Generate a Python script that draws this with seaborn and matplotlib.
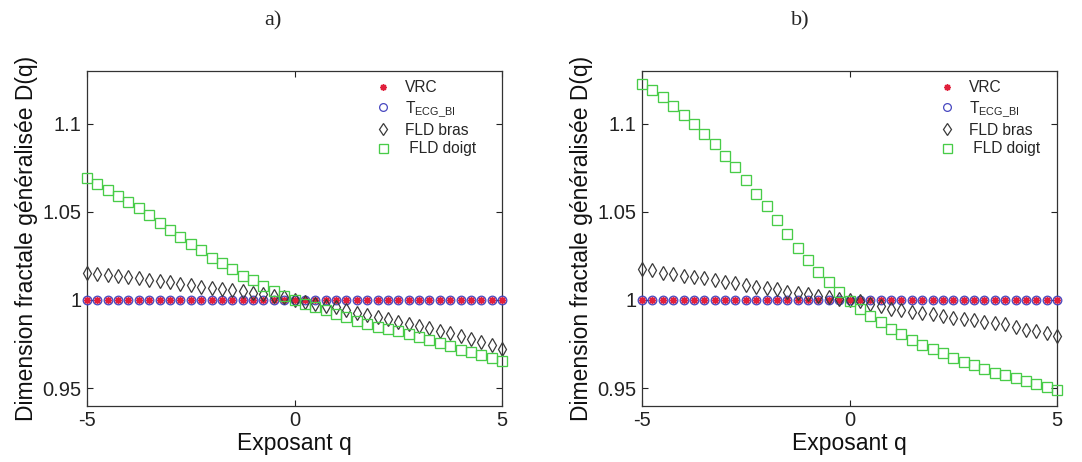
import numpy as np
import pandas as pd
import matplotlib
matplotlib.use("Agg")
import matplotlib.pyplot as plt
import seaborn as sns
from matplotlib.ticker import FuncFormatter

# ---------------- data ----------------
q = [-5.0, -4.75, -4.5, -4.25, -4.0, -3.75, -3.5, -3.25, -3.0, -2.75, -2.5,
     -2.25, -2.0, -1.75, -1.5, -1.25, -1.0, -0.75, -0.5, -0.25, 0.0,
     0.25, 0.5, 0.75, 1.0, 1.25, 1.5, 1.75, 2.0, 2.25, 2.5,
     2.75, 3.0, 3.25, 3.5, 3.75, 4.0, 4.25, 4.5, 4.75, 5.0]

series_labels = ["VRC", r"T$_{ECG\_BI}$", "FLD bras", " FLD doigt"]
panel_titles = ["a)", "b)"]
x_ticks = [-5, 0, 5]
y_ticks = [0.95, 1.0, 1.05, 1.1]
x_label = "Exposant q"
y_label = "Dimension fractale généralisée D(q)"

# panel a
vrc_a = [1.0000, 1.0000, 1.0000, 1.0000, 1.0000, 1.0000, 1.0000, 1.0000, 1.0000, 1.0000, 1.0000,
         1.0000, 1.0000, 1.0000, 1.0000, 1.0000, 1.0000, 1.0000, 1.0000, 1.0000, 1.0000,
         0.9999, 0.9999, 0.9999, 0.9999, 0.9999, 0.9999, 0.9999, 0.9999, 0.9999, 0.9999,
         0.9999, 0.9999, 0.9999, 0.9999, 0.9999, 0.9999, 0.9999, 0.9999, 0.9999, 0.9999]
tecg_a = [1.0000, 1.0000, 1.0000, 1.0000, 1.0000, 1.0000, 1.0000, 1.0000, 1.0000, 1.0000, 1.0000,
          1.0000, 1.0000, 1.0000, 1.0000, 1.0000, 1.0000, 1.0000, 1.0000, 1.0000, 1.0000,
          1.0000, 1.0000, 1.0000, 1.0000, 1.0000, 1.0000, 1.0000, 1.0000, 1.0000, 1.0000,
          1.0000, 1.0000, 1.0000, 1.0000, 1.0000, 1.0000, 1.0000, 1.0000, 1.0000, 1.0000]
bras_a = [1.0155, 1.0149, 1.0142, 1.0138, 1.0130, 1.0123, 1.0115, 1.0108, 1.0100, 1.0092, 1.0083,
          1.0075, 1.0070, 1.0062, 1.0055, 1.0051, 1.0038, 1.0032, 1.0025, 1.0015, 1.0000,
          0.9988, 0.9977, 0.9967, 0.9957, 0.9940, 0.9923, 0.9912, 0.9902, 0.9890, 0.9877,
          0.9865, 0.9853, 0.9839, 0.9825, 0.9811, 0.9796, 0.9778, 0.9760, 0.9742, 0.9720]
doigt_a = [1.0692, 1.0658, 1.0623, 1.0592, 1.0557, 1.0519, 1.0479, 1.0438, 1.0396, 1.0355, 1.0319,
           1.0281, 1.0240, 1.0208, 1.0174, 1.0138, 1.0113, 1.0081, 1.0053, 1.0025, 1.0000,
           0.9978, 0.9962, 0.9942, 0.9921, 0.9902, 0.9883, 0.9866, 0.9849, 0.9835, 0.9821,
           0.9807, 0.9792, 0.9773, 0.9755, 0.9736, 0.9717, 0.9703, 0.9689, 0.9670, 0.9651]

# panel b
vrc_b = [1.0000, 1.0001, 1.0001, 1.0001, 1.0000, 1.0000, 1.0000, 1.0000, 1.0000, 1.0000, 1.0000,
         1.0000, 1.0000, 0.9999, 0.9999, 0.9999, 0.9999, 0.9999, 0.9999, 0.9999, 0.9998,
         0.9998, 0.9998, 0.9998, 0.9998, 0.9998, 0.9998, 0.9998, 0.9998, 0.9998, 0.9998,
         0.9998, 0.9998, 0.9998, 0.9998, 0.9998, 0.9997, 0.9997, 0.9997, 0.9997, 0.9997]
tecg_b = [1.0000, 1.0000, 1.0000, 1.0000, 1.0000, 1.0000, 1.0000, 1.0000, 1.0000, 1.0000, 1.0000,
          1.0000, 1.0000, 1.0000, 1.0000, 1.0000, 1.0000, 1.0000, 1.0000, 1.0000, 1.0000,
          1.0000, 1.0000, 1.0000, 1.0000, 1.0000, 1.0000, 1.0000, 1.0000, 1.0000, 1.0000,
          1.0000, 1.0000, 1.0000, 1.0000, 1.0000, 1.0000, 1.0000, 1.0000, 1.0000, 1.0000]
bras_b = [1.0174, 1.0167, 1.0155, 1.0148, 1.0137, 1.0131, 1.0122, 1.0112, 1.0103, 1.0094, 1.0084,
          1.0075, 1.0066, 1.0060, 1.0047, 1.0037, 1.0032, 1.0024, 1.0015, 1.0007, 1.0000,
          0.9991, 0.9979, 0.9966, 0.9951, 0.9942, 0.9933, 0.9925, 0.9919, 0.9910, 0.9900,
          0.9891, 0.9884, 0.9876, 0.9869, 0.9861, 0.9848, 0.9831, 0.9822, 0.9813, 0.9798]
doigt_b = [1.1227, 1.1190, 1.1148, 1.1101, 1.1049, 1.0996, 1.0942, 1.0884, 1.0818, 1.0753, 1.0678,
           1.0603, 1.0530, 1.0453, 1.0371, 1.0296, 1.0227, 1.0159, 1.0103, 1.0047, 0.9996,
           0.9948, 0.9910, 0.9873, 0.9835, 0.9807, 0.9775, 0.9745, 0.9719, 0.9697, 0.9672,
           0.9648, 0.9629, 0.9607, 0.9588, 0.9573, 0.9558, 0.9541, 0.9522, 0.9507, 0.9490]

panels = [[vrc_a, tecg_a, bras_a, doigt_a], [vrc_b, tecg_b, bras_b, doigt_b]]

# ---------------- style ----------------
sns.set_theme(style="ticks")
plt.rcParams["font.family"] = ["Liberation Sans", "DejaVu Sans"]
plt.rcParams["mathtext.default"] = "regular"

colors = ["#e0203c", "#4848c0", "#3a3a3a", "#48cc48"]
markers = [(8, 2, 0), "o", "d", "s"]
msizes = [5.2, 6.2, 7.0, 7.2]
mews = [1.1, 0.9, 0.9, 0.95]

fig = plt.figure(figsize=(10.82, 4.62), dpi=100)
W, H = 1082.0, 462.0
axes_px = [(87, 502), (642, 1057)]
top_px, bot_px = 70.7, 405.7
title_x = [273, 800]

for p, (lx, rx) in enumerate(axes_px):
    ax = fig.add_axes([lx / W, (H - bot_px) / H, (rx - lx) / W, (bot_px - top_px) / H])
    for i, vals in enumerate(panels[p]):
        df = pd.DataFrame({"q": q, "D": vals})
        sns.lineplot(data=df, x="q", y="D", ax=ax, linestyle="none",
                     marker=markers[i], markersize=msizes[i],
                     markeredgecolor=colors[i], markeredgewidth=mews[i],
                     markerfacecolor="none", color=colors[i],
                     label=series_labels[i], errorbar=None, sort=False,
                     clip_on=False, zorder=3 + i)
    ax.set_xlim(-5, 5)
    ax.set_ylim(0.94, 1.13)
    ax.set_xticks(x_ticks)
    ax.set_yticks(y_ticks)
    ax.xaxis.set_major_formatter(FuncFormatter(lambda v, pos: f"{v:g}"))
    ax.yaxis.set_major_formatter(FuncFormatter(lambda v, pos: f"{v:g}"))
    ax.tick_params(direction="in", length=4.5, width=0.8, top=True, right=True,
                   labelsize=14.5, colors="#222222", pad=4)
    for s in ax.spines.values():
        s.set_color("#333333")
        s.set_linewidth(0.9)
    ax.set_xlabel(x_label, fontsize=16.5, labelpad=1, color="#111111")
    ax.set_ylabel(y_label, fontsize=16.5, labelpad=3, color="#111111")
    ax.grid(False)
    leg_x = 0.694 if p == 0 else 0.716
    ax.legend(loc="upper left", bbox_to_anchor=(leg_x, 0.972), frameon=False,
              fontsize=11.2, handlelength=1.0, handletextpad=0.9,
              labelspacing=0.25, borderpad=0, borderaxespad=0, markerscale=0.9)
    fig.text(title_x[p] / W, 1 - 21 / H, panel_titles[p], ha="center", va="center",
             fontsize=16, family=["Liberation Serif", "DejaVu Serif"])

fig.savefig("out.png", dpi=100, facecolor="white")
